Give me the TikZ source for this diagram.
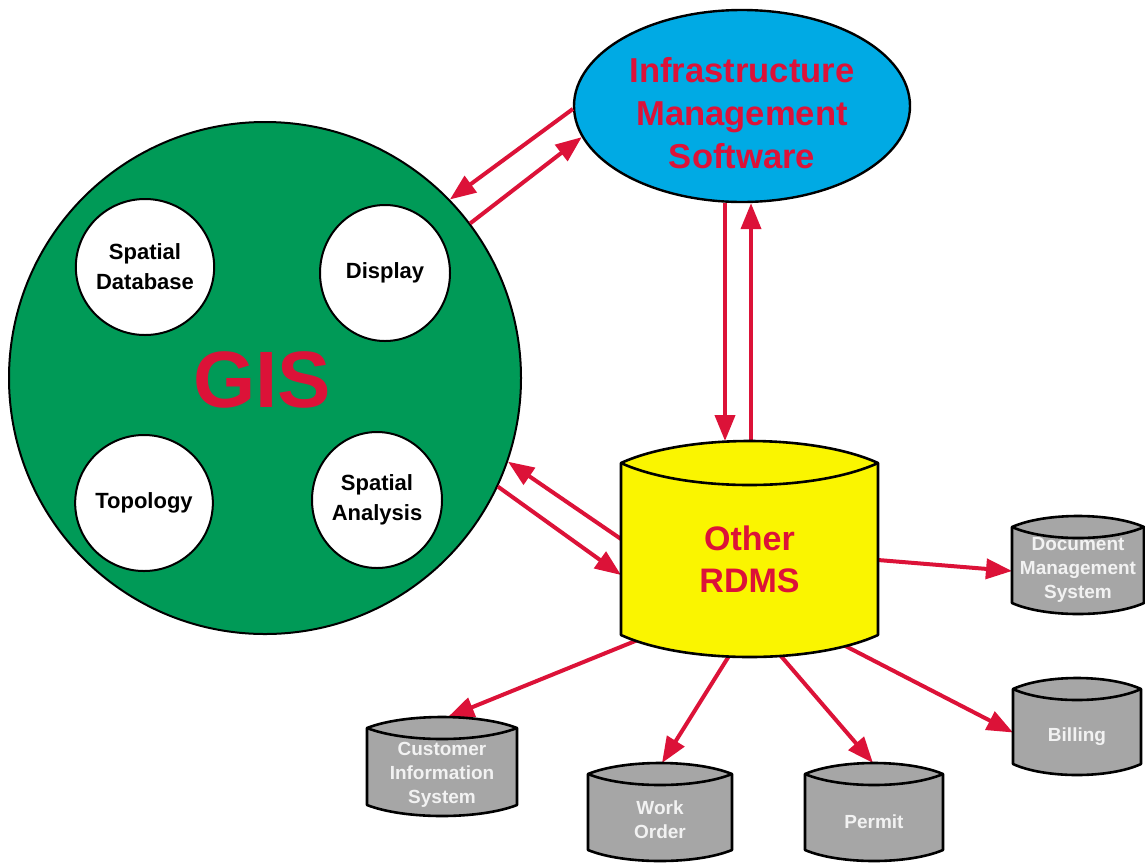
\documentclass[tikz,border=0pt]{standalone}
\usepackage{fontspec}
\setmainfont{Liberation Sans}
\usepackage{xcolor}
\usetikzlibrary{arrows.meta, calc, positioning, shapes.geometric}
\definecolor{gisgreen}{HTML}{009A57}
\definecolor{imsblue}{HTML}{00AAE4}
\definecolor{rdmsyellow}{HTML}{FAF500}
\definecolor{dbgray}{HTML}{A6A6A6}
\definecolor{dblabel}{HTML}{F2F2F2}
\definecolor{linkred}{HTML}{DC1238}

% database drum drawn round an (invisible) holder node: name, bulge, fill
\newcommand{\dbcyl}[3]{%
  \filldraw[dbline, fill=#3]
    ($(#1.north west)+(0,-#2)$)
    .. controls ($(#1.north west)!0.25!(#1.north east)+(0,#2/3)$)
            and ($(#1.north west)!0.75!(#1.north east)+(0,#2/3)$) ..
    ($(#1.north east)+(0,-#2)$) -- ($(#1.south east)+(0,#2)$)
    .. controls ($(#1.south west)!0.75!(#1.south east)+(0,-#2/3)$)
            and ($(#1.south west)!0.25!(#1.south east)+(0,-#2/3)$) ..
    ($(#1.south west)+(0,#2)$) -- cycle;
  \draw[dbline]
    ($(#1.north west)+(0,-#2)$)
    .. controls ($(#1.north west)!0.25!(#1.north east)+(0,-7*#2/3)$)
            and ($(#1.north west)!0.75!(#1.north east)+(0,-7*#2/3)$) ..
    ($(#1.north east)+(0,-#2)$);
}

\begin{document}
\begin{tikzpicture}[
  x=0.5pt, y=-0.5pt,
  font=\bfseries,
  gisdisc/.style={circle, draw=black, line width=1pt, fill=gisgreen,
                  minimum size=256pt, inner sep=0pt},
  gistitle/.style={text=linkred, inner sep=0pt,
                   font=\fontsize{40}{44}\selectfont\bfseries},
  part/.style={ellipse, draw=black, line width=1pt, fill=white,
               minimum width=65pt, minimum height=68pt, inner sep=0pt,
               align=center, font=\fontsize{11}{15}\selectfont\bfseries},
  imsbubble/.style={ellipse, draw=black, line width=1.2pt, fill=imsblue,
                    minimum width=168pt, minimum height=96pt, inner sep=0pt},
  imstitle/.style={align=center, text=linkred, inner sep=0pt,
                   font=\fontsize{17.3}{21.5}\selectfont\bfseries},
  dbbody/.style={inner sep=0pt, outer sep=0pt},
  dbline/.style={draw=black, line width=1.3pt, line join=round},
  bigdb/.style={align=center, text=linkred, inner sep=0pt,
                font=\fontsize{17}{21}\selectfont\bfseries},
  smalldb/.style={align=center, text=dblabel, inner sep=0pt,
                  font=\fontsize{9.5}{12}\selectfont\bfseries},
  link/.style={draw=linkred, line width=2pt,
               -{Triangle[length=13pt, width=10pt]}}
]
\path[use as bounding box, fill=white] (0,0) rectangle (1145,863);

% ---------------- GIS ----------------
\node[gisdisc] (gis) at (265,378) {};
\node[gistitle] (gistxt) at ($(gis)+(-3,2)$) {GIS};
\node[part] (sdb)  at ($(gis)+(-120,-111)$) {Spatial\\Database};
\node[part] (disp) at ($(gis)+(120,-105)$)  {Display};
\node[part] (topo) at ($(gis)+(-121,125)$)  {Topology};
\node[part] (sana) at ($(gis)+(112,122)$)   {Spatial\\Analysis};

% ---------------- Infrastructure software ----------------
\node[imsbubble] (ims) at (742,106) {};
\node[imstitle] (imstxt) at ($(ims)+(0,7)$) {Infrastructure\\Management\\Software};

% ---------------- Databases ----------------
\node[dbbody, minimum width=128.5pt, minimum height=108pt] (rdms) at (749.5,549) {};
\node[dbbody, minimum width=66pt, minimum height=49pt]   (doc)    at (1078,565) {};
\node[dbbody, minimum width=64pt, minimum height=48.5pt] (bill)   at (1077,726.5) {};
\node[dbbody, minimum width=69pt, minimum height=49pt]   (permit) at (874,812) {};
\node[dbbody, minimum width=72pt, minimum height=49pt]   (work)   at (660,812) {};
\node[dbbody, minimum width=75pt, minimum height=49.5pt] (cust)   at (442,766.5) {};

\coordinate (imsL) at ([xshift=-8.5pt]ims.south);
\coordinate (imsR) at ([xshift=4.5pt]ims.south);

% ---------------- Arrows ----------------
\draw[link] (ims.181) -- (gis.44.5);
\draw[link] (gis.37.8) -- (ims.191);
\draw[link] (imsL) -- (imsL |- rdms.north);
\draw[link] (imsR |- rdms.north) -- (imsR);
\draw[link] ([yshift=5pt]rdms.west) -- (gis.-19.2);
\draw[link] (gis.-25.6) -- ([yshift=-13pt]rdms.west);

% fan-out (starts hidden under the drum)
\draw[link] ([yshift=-5.5pt]rdms.east) -- ([yshift=-3pt]doc.west);
\draw[link] ($(rdms)+(14.5,55)$)  -- ([yshift=-3pt]bill.west);
\draw[link] ($(rdms)+(-12.5,56)$) -- ([xshift=-0.5pt]permit.north);
\draw[link] ($(rdms)+(9.5,59)$)   -- ([xshift=1pt]work.north);
\draw[link] ($(rdms)+(-62.5,71)$) -- ([xshift=3pt]cust.north);

% ---------------- Drums & labels ----------------
\dbcyl{rdms}{11pt}{rdmsyellow}
\dbcyl{doc}{5.5pt}{dbgray}
\dbcyl{bill}{5.5pt}{dbgray}
\dbcyl{permit}{5.5pt}{dbgray}
\dbcyl{work}{5.5pt}{dbgray}
\dbcyl{cust}{5.5pt}{dbgray}

\node[bigdb]   (rdmstxt)   at ([yshift=-5pt]rdms.center)   {Other\\RDMS};
\node[smalldb] (doctxt)    at ([yshift=-2.5pt]doc.center)  {Document\\Management\\System};
\node[smalldb] (billtxt)   at ([yshift=-5pt]bill.center)   {Billing};
\node[smalldb] (permittxt) at ([yshift=-5pt]permit.center) {Permit};
\node[smalldb] (worktxt)   at ([yshift=-4pt]work.center)   {Work\\Order};
\node[smalldb] (custtxt)   at ([yshift=-4pt]cust.center)   {Customer\\Information\\System};

\end{tikzpicture}
\end{document}
